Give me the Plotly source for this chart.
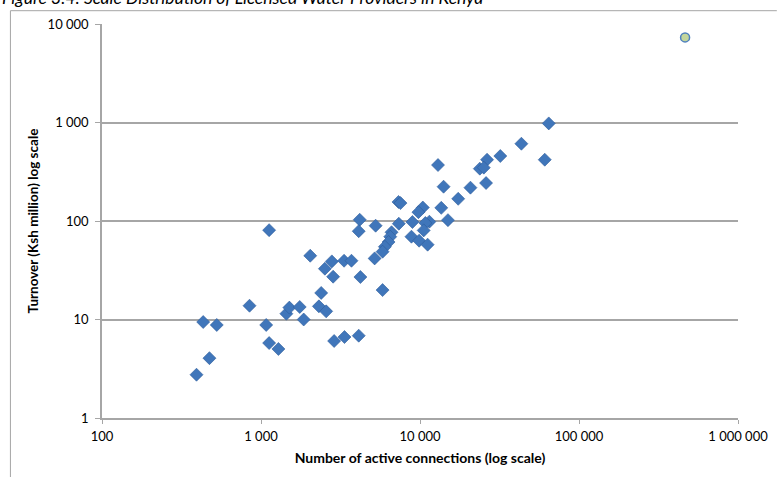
import plotly.graph_objects as go

# Licensed water providers: active connections vs turnover (Ksh million)
connections = [393, 433, 474, 527, 847, 1078, 1125, 1287, 1444, 1508, 1752, 1856, 2313, 2570,
               2884, 3350, 4117, 1125, 2040, 2790, 2522, 2843, 2391, 3331, 3707, 4177, 4117,
               5260, 5184, 4219, 5817, 64540, 43420, 60900, 31990, 26410, 23770, 25180, 12980,
               14070, 20760, 26030, 17390, 13610, 14990, 7324, 7538, 10420, 9772, 8963, 11450,
               10810, 7356, 10550, 8835, 9871, 11170, 6622, 6500, 6343, 6013, 5817]
turnover = [2.75, 9.43, 4.05, 8.80, 13.8, 8.80, 5.77, 5.02, 11.45, 13.2, 13.4, 10.0, 13.6, 12.1,
            6.05, 6.64, 6.85, 80.7, 44.4, 38.9, 32.8, 27.2, 18.6, 39.5, 39.5, 103, 78.8,
            89.6, 41.7, 27.0, 19.9, 979, 609, 419, 457, 419, 340, 348, 370,
            223, 218, 243, 168, 136, 102, 156, 152, 137, 123, 97.7, 98.4,
            95.4, 93.9, 80.3, 69.3, 63.1, 57.5, 76.9, 69.3, 61.2, 54.8, 48.8]

outlier_connections = [464700]
outlier_turnover = [7311]

x_tickvals = [100, 1000, 10000, 100000, 1000000]
x_ticktext = ["100", "1 000", "10 000", "100 000", "1 000 000"]
y_tickvals = [1, 10, 100, 1000, 10000]
y_ticktext = ["1", "10", "100", "1 000", "10 000"]

title_text = "Figure 3.4: Scale Distribution of Licensed Water Providers in Kenya"
x_title = "Number of active connections (log scale)"
y_title = "Turnover (Ksh million) log scale"

FONT = "Lato, 'Liberation Sans', sans-serif"

fig = go.Figure()
fig.add_trace(go.Scatter(
    x=connections, y=turnover, mode="markers",
    marker=dict(symbol="diamond", size=10, color="#4076ba",
                line=dict(color="#2d5d9a", width=0.6)),
    showlegend=False, hoverinfo="x+y"))
fig.add_trace(go.Scatter(
    x=outlier_connections, y=outlier_turnover, mode="markers",
    marker=dict(symbol="circle", size=9, color="#c3d69b",
                line=dict(color="#4f81bd", width=1.5)),
    showlegend=False, hoverinfo="x+y"))

fig.update_layout(
    width=780, height=477,
    margin=dict(l=102, r=39, t=24, b=59),
    paper_bgcolor="white", plot_bgcolor="white",
    font=dict(family=FONT, size=13, color="#000000"),
    xaxis=dict(type="log", range=[2, 6], tickvals=x_tickvals, ticktext=x_ticktext,
               showgrid=False, zeroline=False, showline=True, linecolor="#a6a6a6",
               linewidth=1.5, ticks="outside", ticklen=4, tickcolor="#a6a6a6",
               tickfont=dict(size=13), ticklabelstandoff=2,
               title=dict(text="<b>" + x_title + "</b>", font=dict(size=14), standoff=10)),
    yaxis=dict(type="log", range=[0, 4], tickvals=y_tickvals, ticktext=y_ticktext,
               showgrid=True, gridcolor="#a6a6a6", gridwidth=1.5, zeroline=False,
               showline=True, linecolor="#a6a6a6", linewidth=1.5,
               ticks="outside", ticklen=5, tickcolor="#a6a6a6",
               tickfont=dict(size=13), ticklabelstandoff=4,
               title=dict(text="<b>" + y_title + "</b>", font=dict(size=13.5), standoff=6)),
    annotations=[dict(text="<i>" + title_text + "</i>", xref="paper", yref="paper",
                      x=-102 / 639, y=1.0668, xanchor="left", yanchor="middle",
                      showarrow=False, font=dict(size=17.5, family=FONT, color="#000000"))],
    shapes=[
        dict(type="line", xref="paper", yref="paper", x0=-92 / 639, x1=678 / 639,
             y0=1 + 13.3 / 394, y1=1 + 13.3 / 394, line=dict(color="#a6a6a6", width=1)),
        dict(type="line", xref="paper", yref="paper", x0=-92 / 639, x1=-92 / 639,
             y0=1 + 13.3 / 394, y1=-60 / 394, line=dict(color="#a6a6a6", width=1)),
    ],
)

fig.write_html("out.html")
